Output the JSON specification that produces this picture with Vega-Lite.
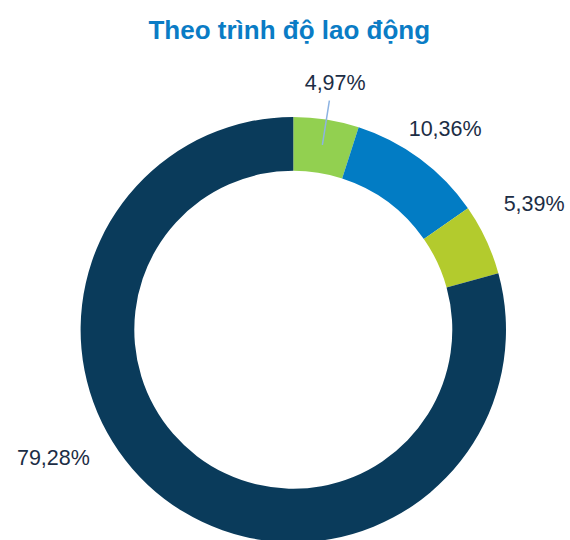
{
  "$schema": "https://vega.github.io/schema/vega-lite/v6.json",
  "autosize": "none",
  "width": 553.4,
  "height": 420.6,
  "padding": {"left": 16.6, "top": 119.4, "right": 0, "bottom": 0},
  "background": "white",
  "title": {
    "text": "Theo trình độ lao động",
    "font": "Liberation Sans",
    "fontSize": 26,
    "fontWeight": "bold",
    "color": "#0A7CC5",
    "anchor": "middle",
    "baseline": "alphabetic",
    "offset": 8,
    "dx": -4
  },
  "config": {"view": {"stroke": null}},
  "data": {
    "values": [
      {"k": 1, "group": "A", "value": 4.97, "label": "4,97%"},
      {"k": 2, "group": "B", "value": 10.36, "label": "10,36%"},
      {"k": 3, "group": "C", "value": 5.39, "label": "5,39%"},
      {"k": 4, "group": "D", "value": 79.28, "label": "79,28%"}
    ]
  },
  "encoding": {
    "theta": {"field": "value", "type": "quantitative", "stack": true},
    "order": {"field": "k", "type": "quantitative"}
  },
  "layer": [
    {
      "mark": {"type": "arc", "radius": 212.7, "radius2": 159},
      "encoding": {
        "color": {
          "field": "group",
          "type": "nominal",
          "scale": {"domain": ["A", "B", "C", "D"], "range": ["#92D050", "#027CC4", "#B3CB2D", "#0A3B5B"]},
          "legend": null
        }
      }
    },
    {
      "mark": {"type": "arc", "radius": 232, "radius2": 187, "padAngle": 0.7, "fillOpacity": 0, "stroke": "#8DB3E2", "strokeWidth": 1.5},
      "encoding": {
        "strokeOpacity": {"condition": {"test": "datum.k == 1", "value": 1}, "value": 0}
      }
    },
    {
      "mark": {"type": "text", "radius": 250, "font": "Liberation Sans", "color": "#1C2D45", "align": "center", "baseline": "middle", "dx": 3, "dy": 1},
      "encoding": {
        "text": {"condition": {"test": "datum.k <= 2", "field": "label"}, "value": ""},
        "size": {"condition": {"test": "datum.k <= 2", "value": 21.5}, "value": 0}
      }
    },
    {
      "mark": {"type": "text", "radius": 150, "font": "Liberation Sans", "color": "#1C2D45", "align": "center", "baseline": "middle", "dx": 105, "dy": -61},
      "encoding": {
        "text": {"condition": {"test": "datum.k == 3", "field": "label"}, "value": ""},
        "size": {"condition": {"test": "datum.k == 3", "value": 21.5}, "value": 0}
      }
    },
    {
      "mark": {"type": "text", "radius": 150, "font": "Liberation Sans", "color": "#1C2D45", "align": "center", "baseline": "middle", "dx": -149, "dy": 10},
      "encoding": {
        "text": {"condition": {"test": "datum.k == 4", "field": "label"}, "value": ""},
        "size": {"condition": {"test": "datum.k == 4", "value": 21.5}, "value": 0}
      }
    }
  ]
}
